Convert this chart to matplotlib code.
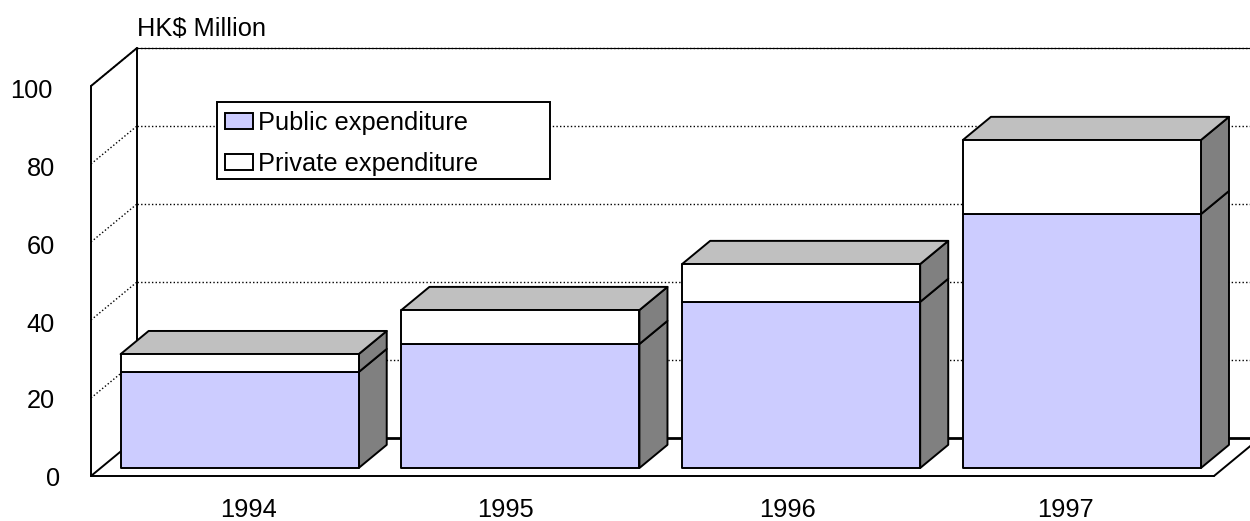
import matplotlib
matplotlib.use("Agg")
import matplotlib.pyplot as plt
from matplotlib.patches import Patch, Rectangle
from matplotlib.transforms import Affine2D

years = ["1994", "1995", "1996", "1997"]
public = [24.6, 31.8, 42.6, 65.1]
private = [4.6, 8.7, 9.7, 19.0]
yticks = [0, 20, 40, 60, 80, 100]

W, H = 1250, 521
plt.rcParams["font.family"] = ["Liberation Sans", "DejaVu Sans"]
big = 18.3

fig = plt.figure(figsize=(W / 100, H / 100), dpi=100, facecolor="white")
# front plane of the box: x 91..1214 px, y 476..86 px
ax = fig.add_axes([91 / W, 1 - 476 / H, (1214 - 91) / W, 390 / H])
ax.set_xlim(-0.5, 3.5)
ax.set_ylim(0, 100)
for s in ax.spines.values():
    s.set_visible(False)
ax.patch.set_visible(False)

# oblique projection: depth 1 = back wall
DX = 46 / 280.75
DY = 38 / 3.9
BAR_W = 0.848
BAR_OFF = -0.005
D0, D1 = 0.21, 0.82
lw = 1.4


def proj(x, v, d):
    return x + d * DX, v + d * DY


def line(p, q, **kw):
    kw.setdefault("color", "black")
    kw.setdefault("lw", lw)
    ax.plot([p[0], q[0]], [p[1], q[1]], clip_on=False, solid_capstyle="round", **kw)


def face(pts, color):
    xs = [p[0] for p in pts]
    ys = [p[1] for p in pts]
    ax.fill(xs, ys, facecolor=color, edgecolor="black", lw=lw, clip_on=False,
            joinstyle="round", zorder=3)


left, right = -0.5, 3.75
# gridlines on side wall and back wall
for v in yticks[1:]:
    line(proj(left, v, 0), proj(left, v, 1), ls=(0, (1, 1.6)), lw=1.0)
    line(proj(left, v, 1), proj(right, v, 1), ls=(0, (1, 1.6)), lw=1.0)
line(proj(left, 100, 1), proj(right, 100, 1), lw=0.8)

# walls and floor
line(proj(left, 0, 0), proj(left, 100, 0))
line(proj(left, 100, 0), proj(left, 100, 1))
line(proj(left, 0, 1), proj(left, 100, 1))
line(proj(left, 0, 0), proj(left, 0, 1))
line(proj(left, 0, 1), proj(right, 0, 1), lw=2.0)
line(proj(left, 0, 0), proj(3.5, 0, 0))
line(proj(3.5, 0, 0), proj(3.5, 0, 1))

# bars
for i, (a, b) in enumerate(zip(public, private)):
    x0, x1 = i + BAR_OFF - BAR_W / 2, i + BAR_OFF + BAR_W / 2
    total = a + b
    face([proj(x1, 0, D0), proj(x1, 0, D1), proj(x1, a, D1), proj(x1, a, D0)], "#808080")
    face([proj(x1, a, D0), proj(x1, a, D1), proj(x1, total, D1), proj(x1, total, D0)], "#808080")
    face([proj(x0, total, D0), proj(x0, total, D1), proj(x1, total, D1), proj(x1, total, D0)], "#C0C0C0")
    face([proj(x0, 0, D0), proj(x1, 0, D0), proj(x1, a, D0), proj(x0, a, D0)], "#CCCCFF")
    face([proj(x0, a, D0), proj(x1, a, D0), proj(x1, total, D0), proj(x0, total, D0)], "#FFFFFF")

# axis labels
ax.set_yticks(yticks)
ax.set_yticklabels([str(v) for v in yticks], fontsize=big)
ax.tick_params(axis="y", length=0, pad=27)
ax.set_xticks([0.06, 0.975, 1.98, 2.97])
ax.set_xticklabels(years, fontsize=big)
ax.tick_params(axis="x", length=0, pad=16)

# the y labels are not quite aligned in the original
nudge = [(6.5, 0), (1.5, -1), (1.5, -2), (1.5, -3), (1.5, -3), (-1.5, -2)]
for lab, (dx, dy) in zip(ax.get_yticklabels(), nudge):
    lab.set_transform(lab.get_transform() + Affine2D().translate(dx, dy))

fig.text(137 / W, 1 - 29 / H, "HK$ Million", fontsize=big, va="center", ha="left")

# legend box
fig.add_artist(Rectangle((217 / W, 1 - 179 / H), 333 / W, 77 / H, transform=fig.transFigure,
                         facecolor="white", edgecolor="black", lw=lw, zorder=5))
leg = fig.legend(handles=[Patch(facecolor="#CCCCFF", edgecolor="black", lw=lw, label="Public expenditure"),
                          Patch(facecolor="white", edgecolor="black", lw=lw, label="Private expenditure")],
                 loc="upper left", bbox_to_anchor=(225 / W, 1 - 111 / H), frameon=False,
                 fontsize=big, borderpad=0, borderaxespad=0, handlelength=1.1, handleheight=0.6,
                 handletextpad=0.2, labelspacing=0.66)
leg.set_zorder(6)

fig.savefig("out.png", dpi=100)
